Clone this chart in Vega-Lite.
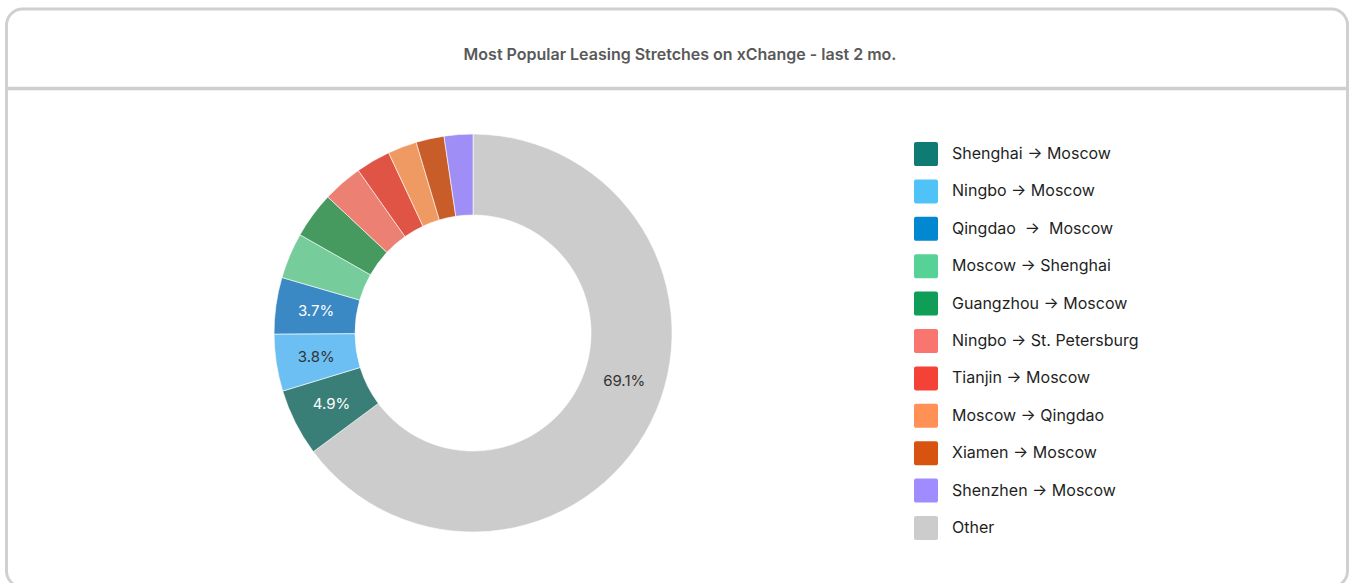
{
  "$schema": "https://vega.github.io/schema/vega-lite/v6.json",
  "width": 1341,
  "height": 578,
  "autosize": {"type": "none"},
  "padding": {"left": 6.5, "top": 9, "right": 3.5, "bottom": -4},
  "background": "white",
  "title": {
    "text": "Most Popular Leasing Stretches on xChange - last 2 mo.",
    "anchor": "middle",
    "frame": "group",
    "offset": -62,
    "baseline": "middle",
    "font": "Inter",
    "fontSize": 16,
    "fontWeight": 600,
    "color": "#595959",
    "dx": 3
  },
  "data": {
    "values": [
      {"route": "Other", "share": 64.83, "label": "69.1%"},
      {"route": "Shenghai → Moscow", "share": 5.46, "label": "4.9%"},
      {"route": "Ningbo → Moscow", "share": 4.63, "label": "3.8%"},
      {"route": "Qingdao\u00a0 → \u00a0Moscow", "share": 4.58, "label": "3.7%"},
      {"route": "Moscow → Shenghai", "share": 3.72, "label": ""},
      {"route": "Guangzhou → Moscow", "share": 3.76, "label": ""},
      {"route": "Ningbo → St. Petersburg", "share": 3.24, "label": ""},
      {"route": "Tianjin → Moscow", "share": 2.81, "label": ""},
      {"route": "Moscow → Qingdao", "share": 2.36, "label": ""},
      {"route": "Xiamen → Moscow", "share": 2.28, "label": ""},
      {"route": "Shenzhen → Moscow", "share": 2.33, "label": ""}
    ]
  },
  "transform": [{"window": [{"op": "row_number", "as": "idx"}]}],
  "encoding": {
    "theta": {"field": "share", "type": "quantitative", "stack": true},
    "order": {"field": "idx", "type": "quantitative"},
    "x": {
      "datum": 0.3479,
      "type": "quantitative",
      "scale": {"domain": [0, 1]},
      "axis": {"orient": "top", "offset": -79, "labels": false, "ticks": false, "grid": false, "title": null, "domainColor": "#cfcfcf", "domainWidth": 3.5}
    },
    "y": {
      "datum": 0.5606,
      "type": "quantitative",
      "scale": {"domain": [0, 1], "reverse": true},
      "axis": null
    }
  },
  "layer": [
    {
      "mark": {"type": "arc", "innerRadius": 118, "outerRadius": 199, "opacity": 0},
      "encoding": {
        "color": {
          "field": "route",
          "type": "nominal",
          "scale": {
            "domain": ["Shenghai → Moscow", "Ningbo → Moscow", "Qingdao\u00a0 → \u00a0Moscow", "Moscow → Shenghai", "Guangzhou → Moscow", "Ningbo → St. Petersburg", "Tianjin → Moscow", "Moscow → Qingdao", "Xiamen → Moscow", "Shenzhen → Moscow", "Other"],
            "range": ["#0e7c72", "#4fc3f7", "#0288d1", "#57d297", "#0f9d58", "#f8766f", "#f44336", "#ff9157", "#d8530f", "#a08bff", "#cccccc"]
          },
          "legend": {
            "orient": "none",
            "legendX": 907.5,
            "legendY": 133,
            "title": null,
            "padding": 0,
            "symbolType": "M-1,-0.83A0.17,0.17,0,0,1,-0.83,-1L0.83,-1A0.17,0.17,0,0,1,1,-0.83L1,0.83A0.17,0.17,0,0,1,0.83,1L-0.83,1A0.17,0.17,0,0,1,-1,0.83Z",
            "symbolSize": 576,
            "symbolStrokeWidth": 0,
            "symbolOpacity": 1,
            "labelFont": "Inter",
            "labelFontSize": 16,
            "labelColor": "#1f1f1f",
            "labelOffset": 14,
            "labelLimit": 400,
            "rowPadding": 13.4
          }
        }
      }
    },
    {
      "mark": {"type": "arc", "innerRadius": 118, "outerRadius": 199, "stroke": "white", "strokeWidth": 0.6},
      "encoding": {
        "color": {
          "field": "route",
          "type": "nominal",
          "scale": {
            "domain": ["Shenghai → Moscow", "Ningbo → Moscow", "Qingdao\u00a0 → \u00a0Moscow", "Moscow → Shenghai", "Guangzhou → Moscow", "Ningbo → St. Petersburg", "Tianjin → Moscow", "Moscow → Qingdao", "Xiamen → Moscow", "Shenzhen → Moscow", "Other"],
            "range": ["#397f78", "#6cbff3", "#3a88c4", "#76cc9b", "#46995f", "#eb8073", "#e05445", "#f09a63", "#c85d29", "#9f8ef5", "#cccccc"]
          },
          "legend": null
        }
      }
    },
    {
      "mark": {
        "type": "text",
        "radius": 158.5,
        "font": "Inter",
        "fontSize": 15,
        "thetaOffset": {"expr": "datum.route === 'Other' ? -0.16 : 0"}
      },
      "encoding": {
        "text": {"field": "label", "type": "nominal"},
        "color": {
          "condition": {"test": "datum.label === '4.9%' || datum.label === '3.7%'", "value": "white"},
          "value": "#333333"
        }
      }
    }
  ],
  "resolve": {"scale": {"color": "independent"}},
  "config": {
    "view": {"stroke": "#d0d0d0", "strokeWidth": 3, "cornerRadius": 16},
    "font": "Inter"
  }
}
